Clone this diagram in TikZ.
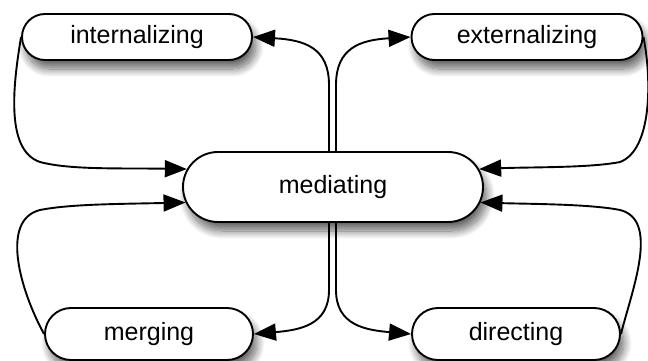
\documentclass[tikz,border=0pt]{standalone}
\usepackage{fontspec}
\setmainfont{Liberation Sans}
\usetikzlibrary{arrows.meta,shapes.misc,shadows.blur}

\tikzset{
  pill/.style={rounded rectangle, draw=black, line width=1.9pt, fill=white,
    inner sep=0pt, font=\fontsize{25}{30}\selectfont,
    blur shadow={shadow xshift=4pt, shadow yshift=-9pt, shadow blur steps=14,
      shadow blur radius=8pt, shadow opacity=60}},
  flow/.style={line width=1.9pt, -{Triangle[length=22pt,width=17pt]}},
}

\begin{document}
\begin{tikzpicture}[x=1pt,y=-1pt]
  \useasboundingbox (0,0) rectangle (648,361);

  % the five states
  \node[pill, minimum width=230pt, minimum height=46pt] (int) at (137,37) {internalizing};
  \node[pill, minimum width=231pt, minimum height=46pt] (ext) at (527,37) {externalizing};
  \node[pill, minimum width=300pt, minimum height=70pt] (med) at (333,187) {mediating};
  \node[pill, minimum width=208pt, minimum height=52pt] (mer) at (149,334) {merging};
  \node[pill, minimum width=208pt, minimum height=52pt] (dir) at (516,334) {directing};

  % anchor points on the centre pill
  \coordinate (mtl) at ([xshift=-4pt]med.north);
  \coordinate (mtr) at ([xshift=3pt]med.north);
  \coordinate (mbl) at ([xshift=-4pt]med.south);
  \coordinate (mbr) at ([xshift=3pt]med.south);

  % from the centre outwards
  \draw[flow] (mtl) -- (329,85) .. controls (329,48) and (305,40) .. (int.east);
  \draw[flow] (mtr) -- (336,85) .. controls (336,48) and (360,40) .. (ext.west);
  \draw[flow] (mbl) -- (329,290) .. controls (329,325) and (300,330) .. (mer.east);
  \draw[flow] (mbr) -- (336,290) .. controls (336,325) and (365,330) .. (dir.west);

  % from the outer states back to the centre
  \draw[flow] (int.west) .. controls (14,80) and (4,150) .. (40,162)
                         .. controls (70,170) and (120,168) .. (med.173);
  \draw[flow] (ext.east) .. controls (652,80) and (652,150) .. (620,162)
                         .. controls (590,168) and (530,167) .. (med.7);
  \draw[flow] (mer.west) .. controls (20,290) and (0,220) .. (40,210)
                         .. controls (70,204) and (120,204) .. (med.186);
  \draw[flow] (dir.east) .. controls (632,290) and (660,220) .. (620,210)
                         .. controls (590,204) and (530,204) .. (med.354);
\end{tikzpicture}
\end{document}
